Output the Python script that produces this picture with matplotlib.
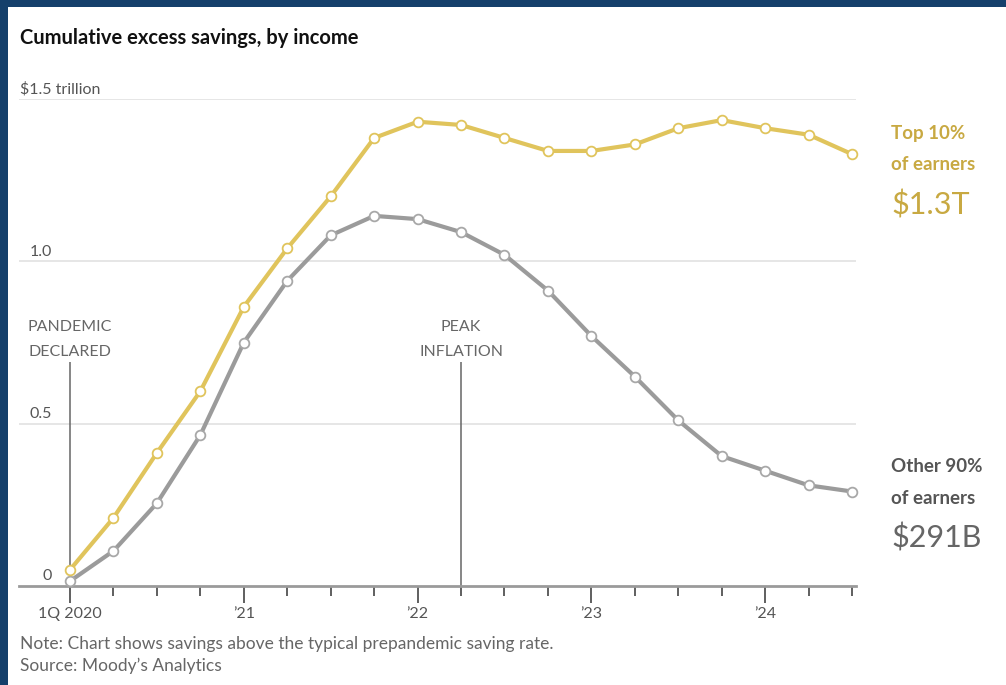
import numpy as np
import matplotlib
matplotlib.use("Agg")
import matplotlib.pyplot as plt
import matplotlib.transforms as mtransforms
from matplotlib.patches import Rectangle

# ---------------- data ----------------
quarters = ['2020Q1', '2020Q2', '2020Q3', '2020Q4',
            '2021Q1', '2021Q2', '2021Q3', '2021Q4',
            '2022Q1', '2022Q2', '2022Q3', '2022Q4',
            '2023Q1', '2023Q2', '2023Q3', '2023Q4',
            '2024Q1', '2024Q2', '2024Q3']
top10 = [0.05, 0.21, 0.41, 0.60, 0.86, 1.04, 1.20, 1.38, 1.43, 1.42,
         1.38, 1.34, 1.34, 1.36, 1.41, 1.435, 1.41, 1.39, 1.33]
other90 = [0.015, 0.108, 0.255, 0.465, 0.75, 0.94, 1.08, 1.14, 1.13, 1.09,
           1.02, 0.91, 0.77, 0.645, 0.51, 0.40, 0.355, 0.31, 0.291]
year_tick_quarters = ['2020Q1', '2021Q1', '2022Q1', '2023Q1', '2024Q1']
year_tick_labels = ['1Q 2020', '\u201921', '\u201922', '\u201923', '\u201924']
yticks = [0, 0.5, 1.0, 1.5]
ytick_labels = ['0', '0.5', '1.0', '$1.5 trillion']
events = [('2020Q1', 'PANDEMIC', 'DECLARED'), ('2022Q2', 'PEAK', 'INFLATION')]

# ---------------- style ----------------
plt.rcParams['font.family'] = ['Lato', 'DejaVu Sans']
GOLD_LINE = '#e0c45c'
GOLD_TEXT = '#c8a942'
GRAY_LINE = '#9b9b9b'
TXT = '#555555'

W, H = 1006, 685
fig = plt.figure(figsize=(W / 100, H / 100), dpi=100)
fig.patch.set_facecolor('#15406b')
fig.patches.append(Rectangle((8 / W, 0), 1 - 8 / W, 1 - 7 / H, transform=fig.transFigure,
                             facecolor='white', edgecolor='none', zorder=-10))

def fx(px):
    return px / W

def fy(py):
    return 1 - py / H

ax_left, ax_right, ax_top, ax_bot = 19, 856, 99, 586
ax = fig.add_axes([fx(ax_left), fy(ax_bot), (ax_right - ax_left) / W, (ax_bot - ax_top) / H])
ax.set_facecolor('none')
ax.set_zorder(5)

x = np.arange(len(quarters))
ax.set_xlim(-1.174, 18.09)
ax.set_ylim(0, 1.5)

# grid
for v in yticks[1:]:
    ax.axhline(v, color='#e4e4e4', lw=1.3, zorder=1)

for s in ['top', 'right', 'left']:
    ax.spines[s].set_visible(False)
ax.spines['bottom'].set_color('#9a9a9a')
ax.spines['bottom'].set_linewidth(2)

# y labels above gridlines
trans = mtransforms.blended_transform_factory(ax.transAxes, ax.transData)
ax.set_yticks([])
for v, lab in zip(yticks, ytick_labels):
    if lab.startswith('$'):
        ax.text((20 - ax_left) / (ax_right - ax_left), v + 0.017, lab, transform=trans,
                ha='left', va='baseline', fontsize=11.5, color=TXT)
    else:
        ax.text((52 - ax_left) / (ax_right - ax_left), v + 0.017, lab, transform=trans,
                ha='right', va='baseline', fontsize=11.5, color=TXT)

# x ticks
major_pos = [quarters.index(q) for q in year_tick_quarters]
ax.set_xticks(major_pos)
ax.set_xticklabels(year_tick_labels)
ax.set_xticks(x, minor=True)
ax.tick_params(axis='x', which='major', length=12, width=1.2, color='#444444',
               labelsize=11.5, labelcolor=TXT, pad=3)
ax.tick_params(axis='x', which='minor', length=7, width=1.2, color='#444444')

# event lines
for q, l1, l2 in events:
    xi = quarters.index(q)
    ax.vlines(xi, 0, 0.69, color='#666666', lw=1.1, zorder=2)
    ax.text(xi, 0.72, l2, ha='center', va='center', fontsize=11.5, color='#666666')
    ax.text(xi, 0.798, l1, ha='center', va='center', fontsize=11.5, color='#666666')

# series
ax.plot(x, other90, color=GRAY_LINE, lw=3, zorder=3, clip_on=False,
        marker='o', markersize=7, markerfacecolor='white', markeredgecolor='#a8a8a8',
        markeredgewidth=1.3)
ax.plot(x, top10, color=GOLD_LINE, lw=3, zorder=4, clip_on=False,
        marker='o', markersize=7, markerfacecolor='white', markeredgecolor=GOLD_LINE,
        markeredgewidth=1.3)

# right-hand labels
fig.text(fx(891), fy(134), 'Top 10%', fontsize=13.5, fontweight='bold', color=GOLD_TEXT,
         ha='left', va='center')
fig.text(fx(891), fy(165), 'of earners', fontsize=13.5, fontweight='bold', color=GOLD_TEXT,
         ha='left', va='center')
fig.text(fx(891), fy(205), '$1.3T', fontsize=22, fontweight='normal', color=GOLD_TEXT,
         ha='left', va='center')
fig.text(fx(891), fy(467), 'Other 90%', fontsize=13.5, fontweight='bold', color='#555555',
         ha='left', va='center')
fig.text(fx(891), fy(498), 'of earners', fontsize=13.5, fontweight='bold', color='#555555',
         ha='left', va='center')
fig.text(fx(891), fy(538), '$291B', fontsize=22, fontweight='normal', color='#666666',
         ha='left', va='center')

# title and footer
fig.text(fx(20), fy(38), 'Cumulative excess savings, by income', fontsize=14.5,
         fontweight='bold', color='#111111', ha='left', va='center')
fig.text(fx(20), fy(644), 'Note: Chart shows savings above the typical prepandemic saving rate.',
         fontsize=12.5, color='#666666', ha='left', va='center')
fig.text(fx(20), fy(666), 'Source: Moody\u2019s Analytics',
         fontsize=12.5, color='#666666', ha='left', va='center')

fig.savefig('out.png', dpi=100, facecolor=fig.get_facecolor())
